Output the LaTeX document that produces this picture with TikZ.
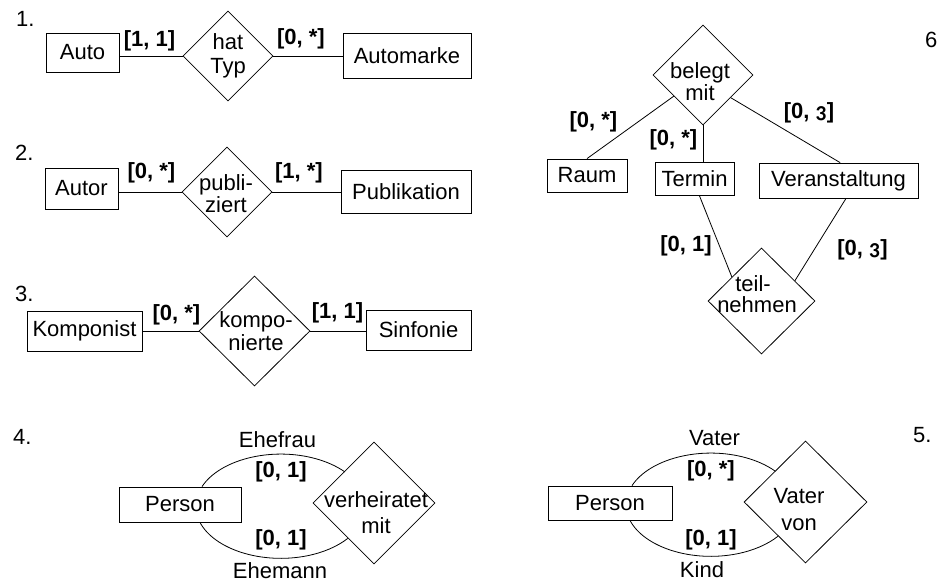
\documentclass[tikz,border=0pt]{standalone}
\usepackage{fontspec}
\setmainfont{Liberation Sans}
\newfontfamily\oldnum[Numbers=OldStyle]{Carlito}
\usetikzlibrary{shapes.geometric,calc}

\begin{document}
\begin{tikzpicture}[x=1pt,y=-1pt,
  every node/.style={font=\fontsize{22}{26}\selectfont},
  entity/.style={draw, rectangle, inner sep=0pt, line width=0.8pt},
  rel/.style={draw, diamond, inner sep=0pt, line width=0.8pt},
  reltext/.style={align=center, inner sep=0pt},
  card/.style={font=\fontsize{22}{26}\selectfont\bfseries, inner sep=0pt},
  role/.style={inner sep=0pt},
  num/.style={inner sep=0pt, anchor=west},
  conn/.style={line width=0.8pt}]
\useasboundingbox (0,0) rectangle (937,582);

% ---------- 1. Auto -- hat Typ -- Automarke ----------
\node[num] (n1) at (16,18.5) {1.};
\node[entity, minimum width=73pt, minimum height=39pt] (a1) at (82.5,52.5) {Auto};
\node[rel, minimum width=90pt, minimum height=90pt] (d1) at (228,56) {};
\node[reltext, font=\fontsize{22}{24}\selectfont] (d1t) at (228,56) {hat\\Typ};
\node[entity, minimum width=128pt, minimum height=45pt] (m1) at (407,55.5) {Automarke};
\draw[conn] (d1.west) -- (d1.west -| a1.east);
\draw[conn] (d1.east) -- (d1.east -| m1.west);
\node[card] (c1a) at (149.5,41) {[1, 1]};
\node[card] (c1b) at (301,38.5) {[0, *]};

% ---------- 2. Autor -- publiziert -- Publikation ----------
\node[num] (n2) at (15,152.5) {2.};
\node[entity, minimum width=73pt, minimum height=41pt] (a2) at (81.5,188.5) {Autor};
\node[rel, minimum width=90pt, minimum height=90pt] (d2) at (227,192) {};
\node[reltext, font=\fontsize{22}{22}\selectfont] (d2t) at (226,193.5) {publi-\\ziert};
\node[entity, minimum width=130pt, minimum height=43pt] (m2) at (406,191.5) {Publikation};
\draw[conn] (d2.west) -- (d2.west -| a2.east);
\draw[conn] (d2.east) -- (d2.east -| m2.west);
\node[card] (c2a) at (151.5,173) {[0, *]};
\node[card] (c2b) at (299,173) {[1, *]};

% ---------- 3. Komponist -- komponierte -- Sinfonie ----------
\node[num] (n3) at (15,293.5) {3.};
\node[entity, minimum width=115pt, minimum height=40pt] (a3) at (84.5,331) {Komponist};
\node[rel, minimum width=111pt, minimum height=110pt] (d3) at (254.5,331) {};
\node[reltext, font=\fontsize{22}{23}\selectfont] (d3t) at (256,331.5) {kompo-\\nierte};
\node[entity, minimum width=105pt, minimum height=40pt] (m3) at (418.5,330) {Sinfonie};
\draw[conn] (d3.west) -- (d3.west -| a3.east);
\draw[conn] (d3.east) -- (d3.east -| m3.west);
\node[card] (c3a) at (176.5,315) {[0, *]};
\node[card] (c3b) at (337.5,313) {[1, 1]};

% ---------- 6. Raum / Termin / Veranstaltung ----------
\node[num] (n6) at (925,40) {6};
\node[rel, minimum width=100pt, minimum height=100pt] (b6) at (703,75) {};
\node[reltext, font=\fontsize{22}{22}\selectfont] (b6t) at (700,81.5) {belegt\\mit};
\node[entity, minimum width=80pt, minimum height=33pt] (r6) at (587,175.5) {Raum};
\node[entity, minimum width=79pt, minimum height=33pt] (t6) at (694.5,178.5) {Termin};
\node[entity, minimum width=159pt, minimum height=35pt] (v6) at (838.5,180.5) {Veranstaltung};
\node[rel, minimum width=107pt, minimum height=106pt] (e6) at (761.5,301) {};
\node[reltext, font=\fontsize{22}{21}\selectfont] (e6t) at (757,294) {teil-\hspace*{8pt}\\nehmen};
\draw[conn] ($(b6.west)!0.42!(b6.south)$) -- (r6.north);
\draw[conn] (b6.south) -- (b6.south |- t6.north);
\draw[conn] ($(b6.east)!0.45!(b6.south)$) -- ($(v6.north west)!0.51!(v6.north east)$);
\draw[conn] ($(t6.south west)!0.56!(t6.south east)$) -- ($(e6.west)!0.45!(e6.north)$);
\draw[conn] ($(v6.south west)!0.547!(v6.south east)$) -- ($(e6.north)!0.62!(e6.east)$);
\node[card] (c6a) at (593.5,122) {[0, *]};
\node[card] (c6b) at (673.5,140) {[0, *]};
\node[card] (c6c) at (809,113) {[0, {\oldnum 3}]};
\node[card] (c6d) at (686,246) {[0, 1]};
\node[card] (c6e) at (862.5,250) {[0, {\oldnum 3}]};

% ---------- 4. Person -- verheiratet mit (recursive) ----------
\node[num] (n4) at (13,436.5) {4.};
\node[entity, minimum width=122pt, minimum height=35pt] (p4) at (180,504.5) {Person};
\node[rel, minimum width=122pt, minimum height=122pt] (d4) at (374,503) {};
\node[reltext, font=\fontsize{22}{26}\selectfont] (d4t) at (376,512.5) {verheiratet\\mit};
\draw[conn] ($(p4.north)+(22,0)$) arc[start angle=158, end angle=41, x radius=85pt, y radius=52pt];
\draw[conn] ($(p4.south)+(20,0)$) arc[start angle=198, end angle=322, x radius=85pt, y radius=52pt];
\node[role] (r4a) at (277.5,440) {Ehefrau};
\node[card] (c4a) at (281,472) {[0, 1]};
\node[card] (c4b) at (281,540) {[0, 1]};
\node[role] (r4b) at (280,571) {Ehemann};

% ---------- 5. Person -- Vater von (recursive) ----------
\node[num] (n5) at (913,435) {5.};
\node[entity, minimum width=124pt, minimum height=34pt] (p5) at (610,503) {Person};
\node[rel, minimum width=123pt, minimum height=122pt] (d5) at (805.5,502) {};
\node[reltext, font=\fontsize{22}{27}\selectfont] (d5t) at (799,510) {Vater\\von};
\draw[conn] ($(p5.north)+(22,0)$) arc[start angle=158, end angle=41, x radius=85pt, y radius=52pt];
\draw[conn] ($(p5.south)+(20,0)$) arc[start angle=198, end angle=322, x radius=85pt, y radius=52pt];
\node[role] (r5a) at (714.5,438) {Vater};
\node[card] (c5a) at (711,471) {[0, *]};
\node[card] (c5b) at (711,540) {[0, 1]};
\node[role] (r5b) at (702,570) {Kind};
\end{tikzpicture}
\end{document}
